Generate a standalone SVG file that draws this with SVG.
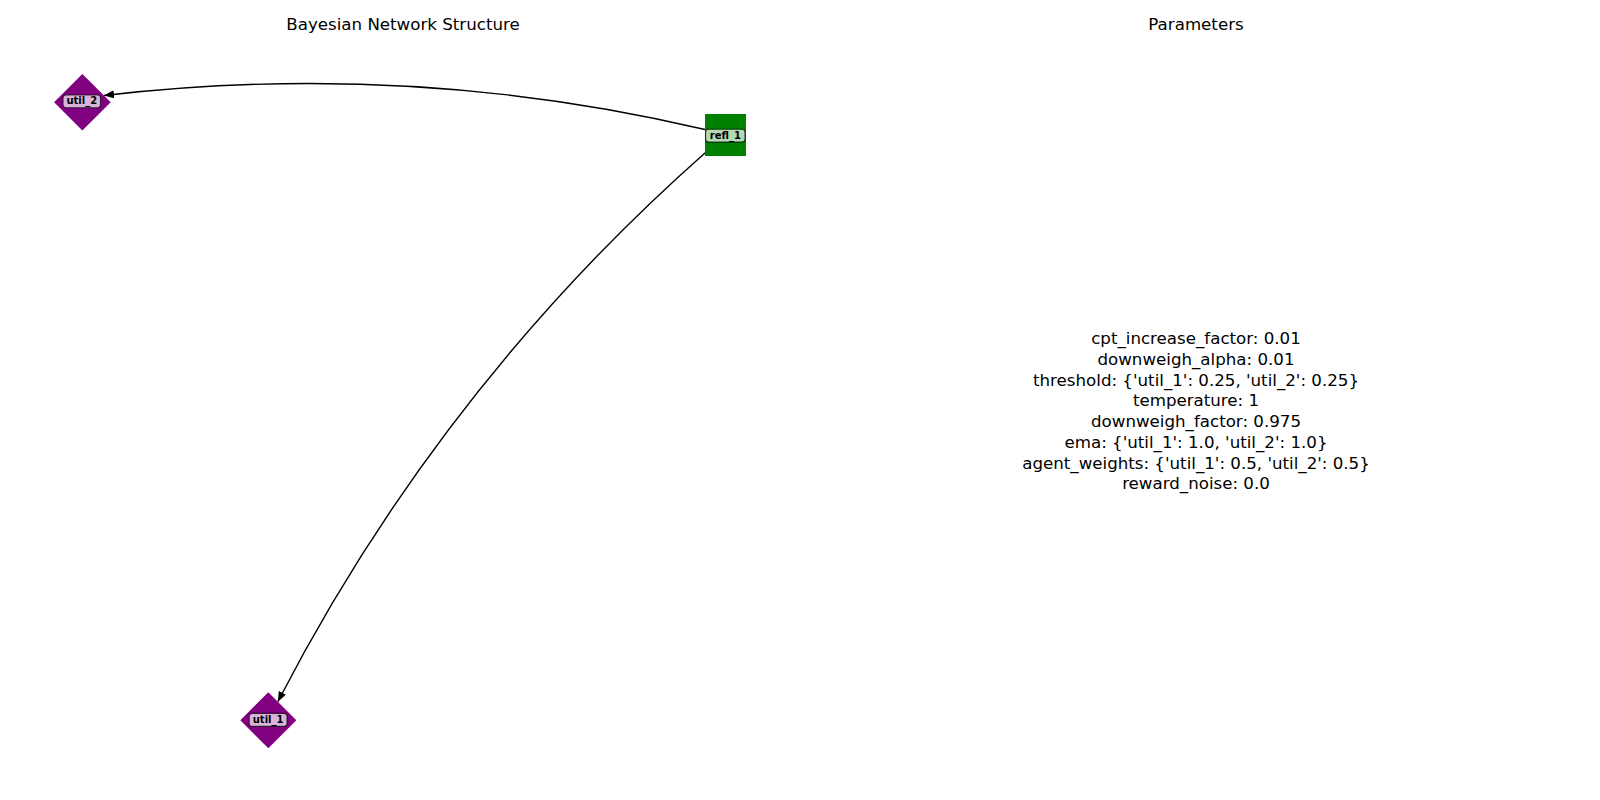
<svg xmlns="http://www.w3.org/2000/svg" width="1600" height="800" viewBox="0 0 1600 800">
  <style>
    .title { font-family: "DejaVu Sans", "Liberation Sans", sans-serif; font-size: 16.67px; fill: #000; text-anchor: middle; }
    .param { font-family: "DejaVu Sans", "Liberation Sans", sans-serif; font-size: 16.67px; fill: #000; text-anchor: middle; }
    .lbl { font-family: "DejaVu Sans", "Liberation Sans", sans-serif; font-size: 10px; font-weight: bold; fill: #000; text-anchor: middle; }
    .lblbox { fill: #ffffff; fill-opacity: 0.7; stroke: #000; stroke-opacity: 0.7; stroke-width: 1.1; }
    .util { fill: #800080; }
    .refl { fill: #008000; }
    .edge { fill: none; stroke: #000; stroke-width: 1.4; }
  </style>
  <defs>
    <marker id="arrow" markerUnits="userSpaceOnUse" markerWidth="12" markerHeight="9" refX="10" refY="4" orient="auto">
      <path d="M0,0 L10,4 L0,8 z" fill="#000"/>
    </marker>
  </defs>
  <rect x="0" y="0" width="1600" height="800" fill="#ffffff"/>

  <text class="title" x="403" y="30">Bayesian Network Structure</text>
  <text class="title" x="1196" y="30">Parameters</text>

  <g id="connectors">
    <path class="edge" d="M705,129.5 Q410,60 104,95.5" marker-end="url(#arrow)"/>
    <path class="edge" d="M706.1,151.9 Q440.4,386.6 277.8,701.7" marker-end="url(#arrow)"/>
  </g>

  <g id="util_2">
    <polygon class="util" points="82.4,74 110.7,102.3 82.4,130.6 54.1,102.3"/>
    <rect class="lblbox" x="63" y="95" width="37.5" height="12.8" rx="3" ry="3"/>
    <text class="lbl" x="81.8" y="104.3">util_2</text>
  </g>

  <g id="refl_1">
    <rect class="refl" x="705" y="114" width="41" height="42"/>
    <rect class="lblbox" x="705.6" y="129.3" width="39.4" height="12.8" rx="3" ry="3"/>
    <text class="lbl" x="725.3" y="138.5">refl_1</text>
  </g>

  <g id="util_1">
    <polygon class="util" points="268.3,692.3 296.3,720.3 268.3,748.3 240.3,720.3"/>
    <rect class="lblbox" x="249.2" y="713.4" width="37.8" height="13" rx="3" ry="3"/>
    <text class="lbl" x="268.1" y="722.7">util_1</text>
  </g>

  <g id="parameters">
    <text class="param" x="1196" y="344">cpt_increase_factor: 0.01</text>
    <text class="param" x="1196" y="364.75">downweigh_alpha: 0.01</text>
    <text class="param" x="1196" y="385.5">threshold: {'util_1': 0.25, 'util_2': 0.25}</text>
    <text class="param" x="1196" y="406.25">temperature: 1</text>
    <text class="param" x="1196" y="427">downweigh_factor: 0.975</text>
    <text class="param" x="1196" y="447.75">ema: {'util_1': 1.0, 'util_2': 1.0}</text>
    <text class="param" x="1196" y="468.5">agent_weights: {'util_1': 0.5, 'util_2': 0.5}</text>
    <text class="param" x="1196" y="489.25">reward_noise: 0.0</text>
  </g>
</svg>
